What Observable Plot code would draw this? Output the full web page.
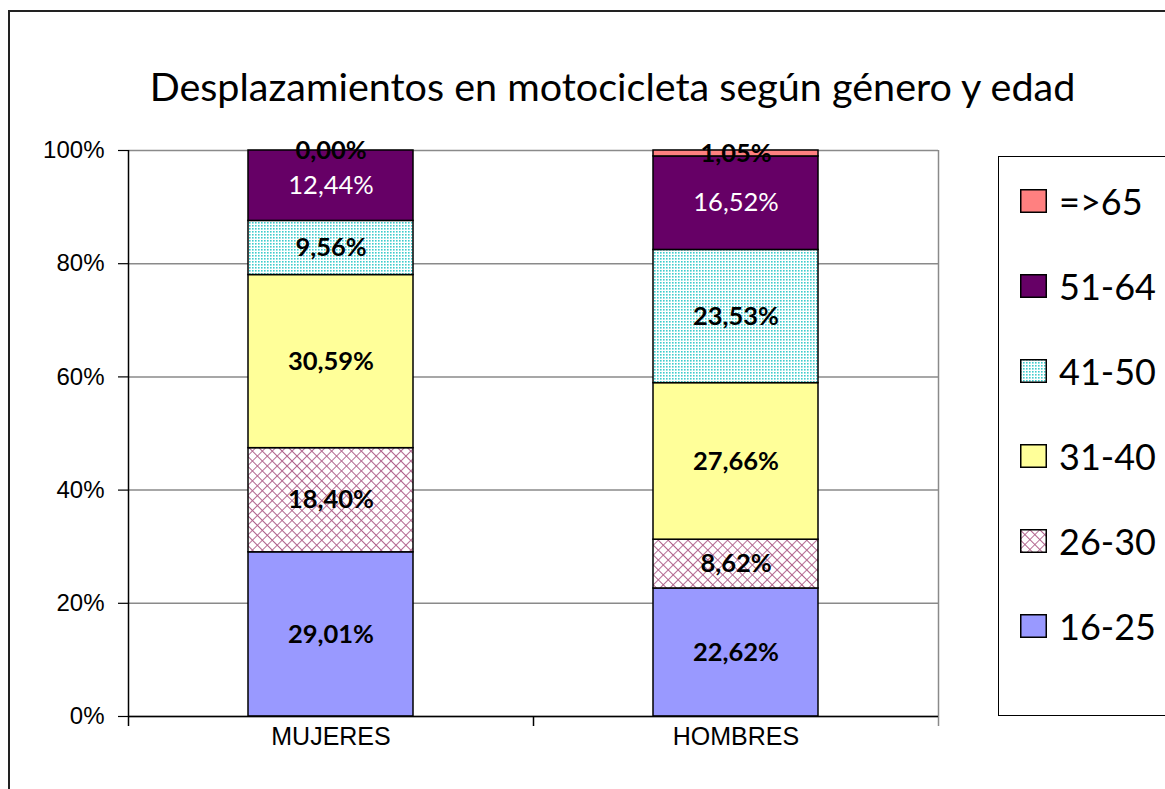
<!DOCTYPE html>
<html>
<head>
<meta charset="utf-8">
<script src="https://cdn.jsdelivr.net/npm/d3@7"></script>
<script src="https://cdn.jsdelivr.net/npm/@observablehq/plot@0.6"></script>
<style>
  body { margin: 0; background: #fff; overflow: hidden; }
  #wrap { position: relative; width: 1165px; height: 789px; overflow: hidden; background: #fff; }
  #frame { position: absolute; left: 8px; top: 10px; width: 1400px; height: 1000px; border: 2px solid #222; box-sizing: border-box; }
  #title { position: absolute; left: 30px; width: 1165px; top: 62px; text-align: center; font-family: Lato, sans-serif; font-size: 39.5px; color: #000; white-space: nowrap; }
  #chart { position: absolute; left: 0; top: 0; }
  #legend { position: absolute; left: 998px; top: 156px; width: 400px; height: 560px; border: 1.5px solid #000; box-sizing: border-box; padding-top: 1px; background: #fff; }
  .row { height: 85px; display: flex; align-items: center; padding-left: 21px; }
  .row svg { display: block; margin-right: 12px; }
  .row span { font-family: Lato, sans-serif; font-size: 36px; color: #000; }
</style>
</head>
<body>
<svg width="0" height="0" style="position:absolute">
  <defs>
    <pattern id="hatch" patternUnits="userSpaceOnUse" width="7" height="7" patternTransform="rotate(45)">
      <rect width="7" height="7" fill="#fff"/>
      <path d="M0,0H7M0,0V7" stroke="#a8507f" stroke-width="1.8" stroke-opacity="0.9"/>
    </pattern>
    <pattern id="dots" patternUnits="userSpaceOnUse" width="3" height="3">
      <rect width="3" height="3" fill="#fff"/>
      <rect width="1.6" height="1.6" fill="#3fcccc"/>
    </pattern>
  </defs>
</svg>
<div id="wrap">
  <div id="frame"></div>
  <div id="chart"></div>
  <div id="title">Desplazamientos en motocicleta según género y edad</div>
  <div id="legend"></div>
</div>
<script>
// ---- data ----
const categories = ["MUJERES", "HOMBRES"];
const ageGroups = ["16-25", "26-30", "31-40", "41-50", "51-64", "=>65"];
const mujeres = [29.01, 18.40, 30.59, 9.56, 12.44, 0.00];
const hombres = [22.62, 8.62, 27.66, 23.53, 16.52, 1.05];
const yTicks = [0, 20, 40, 60, 80, 100];
const groupFills = ["#9999FF", "url(#hatch)", "#FFFF99", "url(#dots)", "#660066", "#FF8080"];
const darkGroup = "51-64";

const seriesByCat = [mujeres, hombres];
const data = [];
categories.forEach((c, ci) => {
  ageGroups.forEach((a, ai) => data.push({cat: c, age: a, value: seriesByCat[ci][ai]}));
});
const fillOf = Object.fromEntries(ageGroups.map((a, i) => [a, groupFills[i]]));
const fmt = v => v.toFixed(2).replace(".", ",") + "%";

const W = 1165, H = 789, ML = 128, MR = 1165 - 938, MT = 150, MB = 789 - 716;
const bw = (W - ML - MR) / categories.length;
const barInset = 120;

const chart = Plot.plot({
  width: W, height: H,
  marginLeft: ML, marginRight: MR, marginTop: MT, marginBottom: MB,
  style: {background: "transparent", overflow: "visible"},
  x: {domain: categories, padding: 0, label: null},
  y: {domain: [0, 100], label: null},
  color: {type: "identity"},
  marks: [
    Plot.gridY(yTicks, {stroke: "#8a8a8a", strokeOpacity: 1, strokeWidth: 1.5}),
    Plot.ruleX([categories[categories.length - 1]], {dx: bw / 2, stroke: "#8a8a8a", strokeWidth: 1.5, insetBottom: -10}),
    Plot.barY(data, Plot.stackY({
      x: "cat", y: "value", fill: d => fillOf[d.age],
      stroke: "#000", strokeWidth: 1.5, insetLeft: barInset, insetRight: barInset
    })),
    Plot.ruleY([0], {stroke: "#000", strokeWidth: 1.5}),
    Plot.ruleX([categories[0]], {dx: -bw / 2, stroke: "#000", strokeWidth: 1.5, insetBottom: -10}),
    Plot.ruleX(categories.slice(1), {dx: -bw / 2, y1: 0, y2: 0, insetBottom: -10, stroke: "#000", strokeWidth: 1.5}),
    Plot.axisY({ticks: yTicks, tickSize: 10, tickPadding: 14, tickFormat: d => d + "%",
      fontSize: 24, fontFamily: "Liberation Sans, Arial, sans-serif", label: null, stroke: "#000", strokeWidth: 1.2, fill: "#000"}),
    Plot.axisX({tickSize: 0, tickPadding: 11, fontSize: 25, fontFamily: "Liberation Sans, Arial, sans-serif", label: null, fill: "#000"}),
    Plot.text(data, Plot.stackY({
      x: "cat", y: "value", text: d => d.age === darkGroup ? "" : fmt(d.value),
      fontSize: 25.5, fontWeight: "bold", fontFamily: "Lato, sans-serif", fill: "#000"
    })),
    Plot.text(data, Plot.stackY({
      x: "cat", y: "value", text: d => d.age === darkGroup ? fmt(d.value) : "",
      fontSize: 25.5, fontFamily: "Lato, sans-serif", fill: "#fff"
    }))
  ]
});
document.getElementById("chart").appendChild(chart);

// legend (top to bottom = reverse stacking order)
const legend = document.getElementById("legend");
ageGroups.slice().reverse().forEach(a => {
  const row = document.createElement("div");
  row.className = "row";
  row.innerHTML = `<svg width="27" height="24"><rect x="0.75" y="0.75" width="25.5" height="22.5" fill="${fillOf[a]}" stroke="#000" stroke-width="1.5"/></svg><span>${a}</span>`;
  legend.appendChild(row);
});
</script>
</body>
</html>
